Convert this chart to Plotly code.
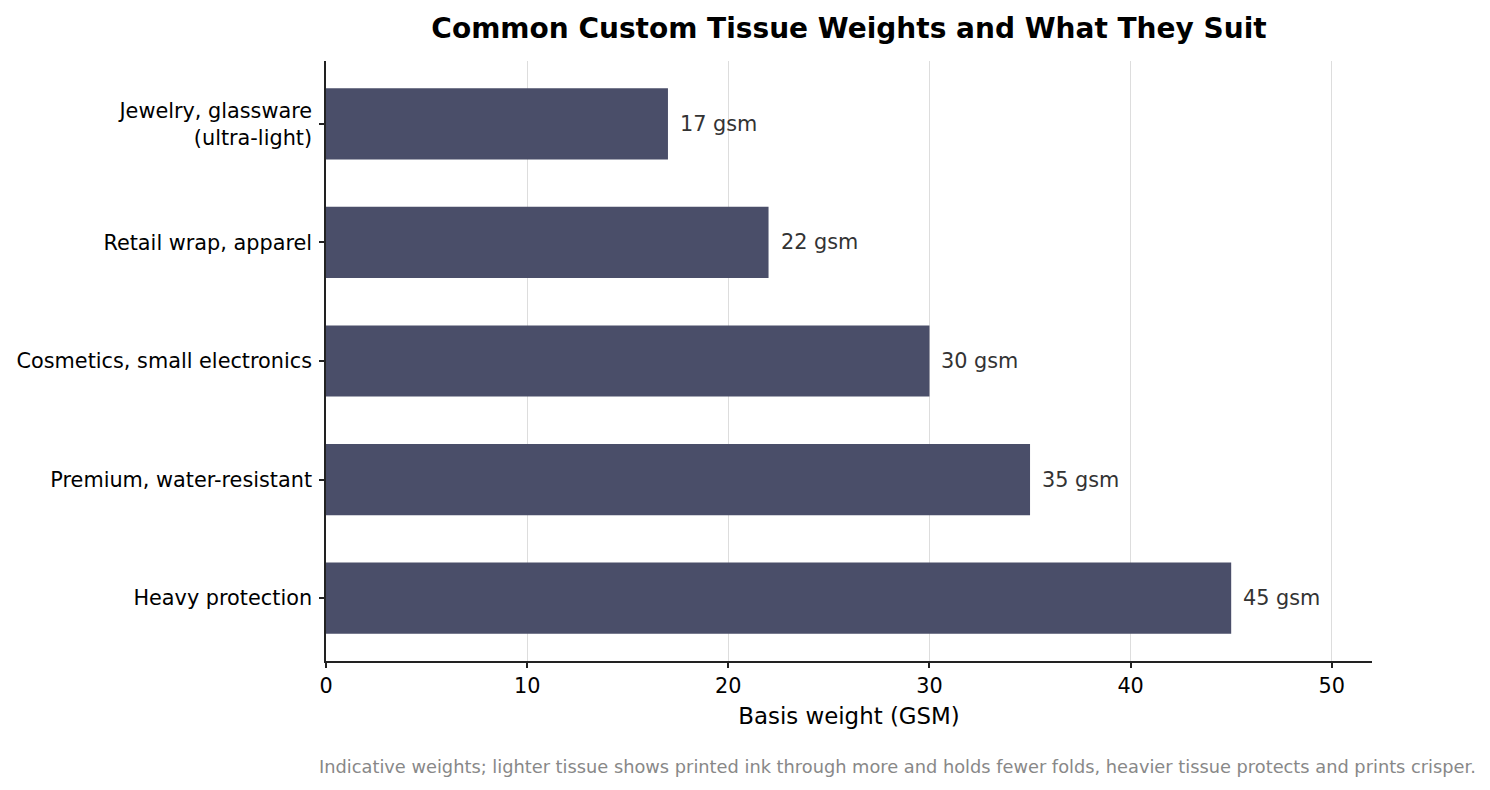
import plotly.graph_objects as go

categories = [
    "Jewelry, glassware<br>(ultra-light)",
    "Retail wrap, apparel",
    "Cosmetics, small electronics",
    "Premium, water-resistant",
    "Heavy protection",
]
weights = [17, 22, 30, 35, 45]
x_ticks = [0, 10, 20, 30, 40, 50]

BAR = "#4a4e69"
FONT = "DejaVu Sans"
PAGE_OFFSET = 8  # browser body margin pushes the figure right/down

fig = go.Figure(
    go.Bar(
        x=weights,
        y=categories,
        orientation="h",
        width=0.6,
        marker=dict(color=BAR, line=dict(width=0)),
        hoverinfo="skip",
    )
)

# value labels just past the bar ends
for cat, w in zip(categories, weights):
    fig.add_annotation(
        x=w, y=cat, text=f"{w} gsm", showarrow=False,
        xanchor="left", xshift=10,
        font=dict(family=FONT, size=20.8, color="#333333"),
    )

fig.add_annotation(
    text="Indicative weights; lighter tissue shows printed ink through more and holds fewer folds, "
    "heavier tissue protects and prints crisper.",
    xref="paper", yref="paper", x=1.1014, y=-0.175,
    xanchor="right", yanchor="middle", showarrow=False,
    font=dict(family=FONT, size=17.8, color="#888888"),
)

fig.update_layout(
    width=1490,
    height=790,
    margin=dict(l=326 - PAGE_OFFSET, r=118 + PAGE_OFFSET, t=61 - PAGE_OFFSET, b=129 + PAGE_OFFSET),
    paper_bgcolor="white",
    plot_bgcolor="white",
    font=dict(family=FONT, size=20.8, color="black"),
    showlegend=False,
    title=dict(
        text="<b>Common Custom Tissue Weights and What They Suit</b>",
        x=0.5, xref="paper", xanchor="center",
        y=1 - (28 - PAGE_OFFSET) / 790, yref="container", yanchor="middle",
        font=dict(family=FONT, size=28, color="black"),
    ),
    xaxis=dict(
        range=[0, 52],
        tickvals=x_ticks,
        automargin=False,
        showgrid=True, gridcolor="#dddddd", gridwidth=1.2,
        zeroline=False,
        showline=True, linecolor="#222222", linewidth=1.5,
        ticks="outside", ticklen=5, tickcolor="#222222", tickwidth=1.5,
        tickfont=dict(size=20.8),
        title=dict(text="Basis weight (GSM)", font=dict(size=22.9), standoff=11),
    ),
    yaxis=dict(
        categoryorder="array",
        categoryarray=categories[::-1],
        range=[-0.53, 4.53],
        automargin=False,
        showgrid=False, zeroline=False,
        showline=True, linecolor="#222222", linewidth=1.5,
        ticks="outside", ticklen=5, tickcolor="#222222", tickwidth=1.5,
        ticklabelstandoff=3,
        tickfont=dict(size=20.8),
    ),
)

fig.write_html("out.html")
